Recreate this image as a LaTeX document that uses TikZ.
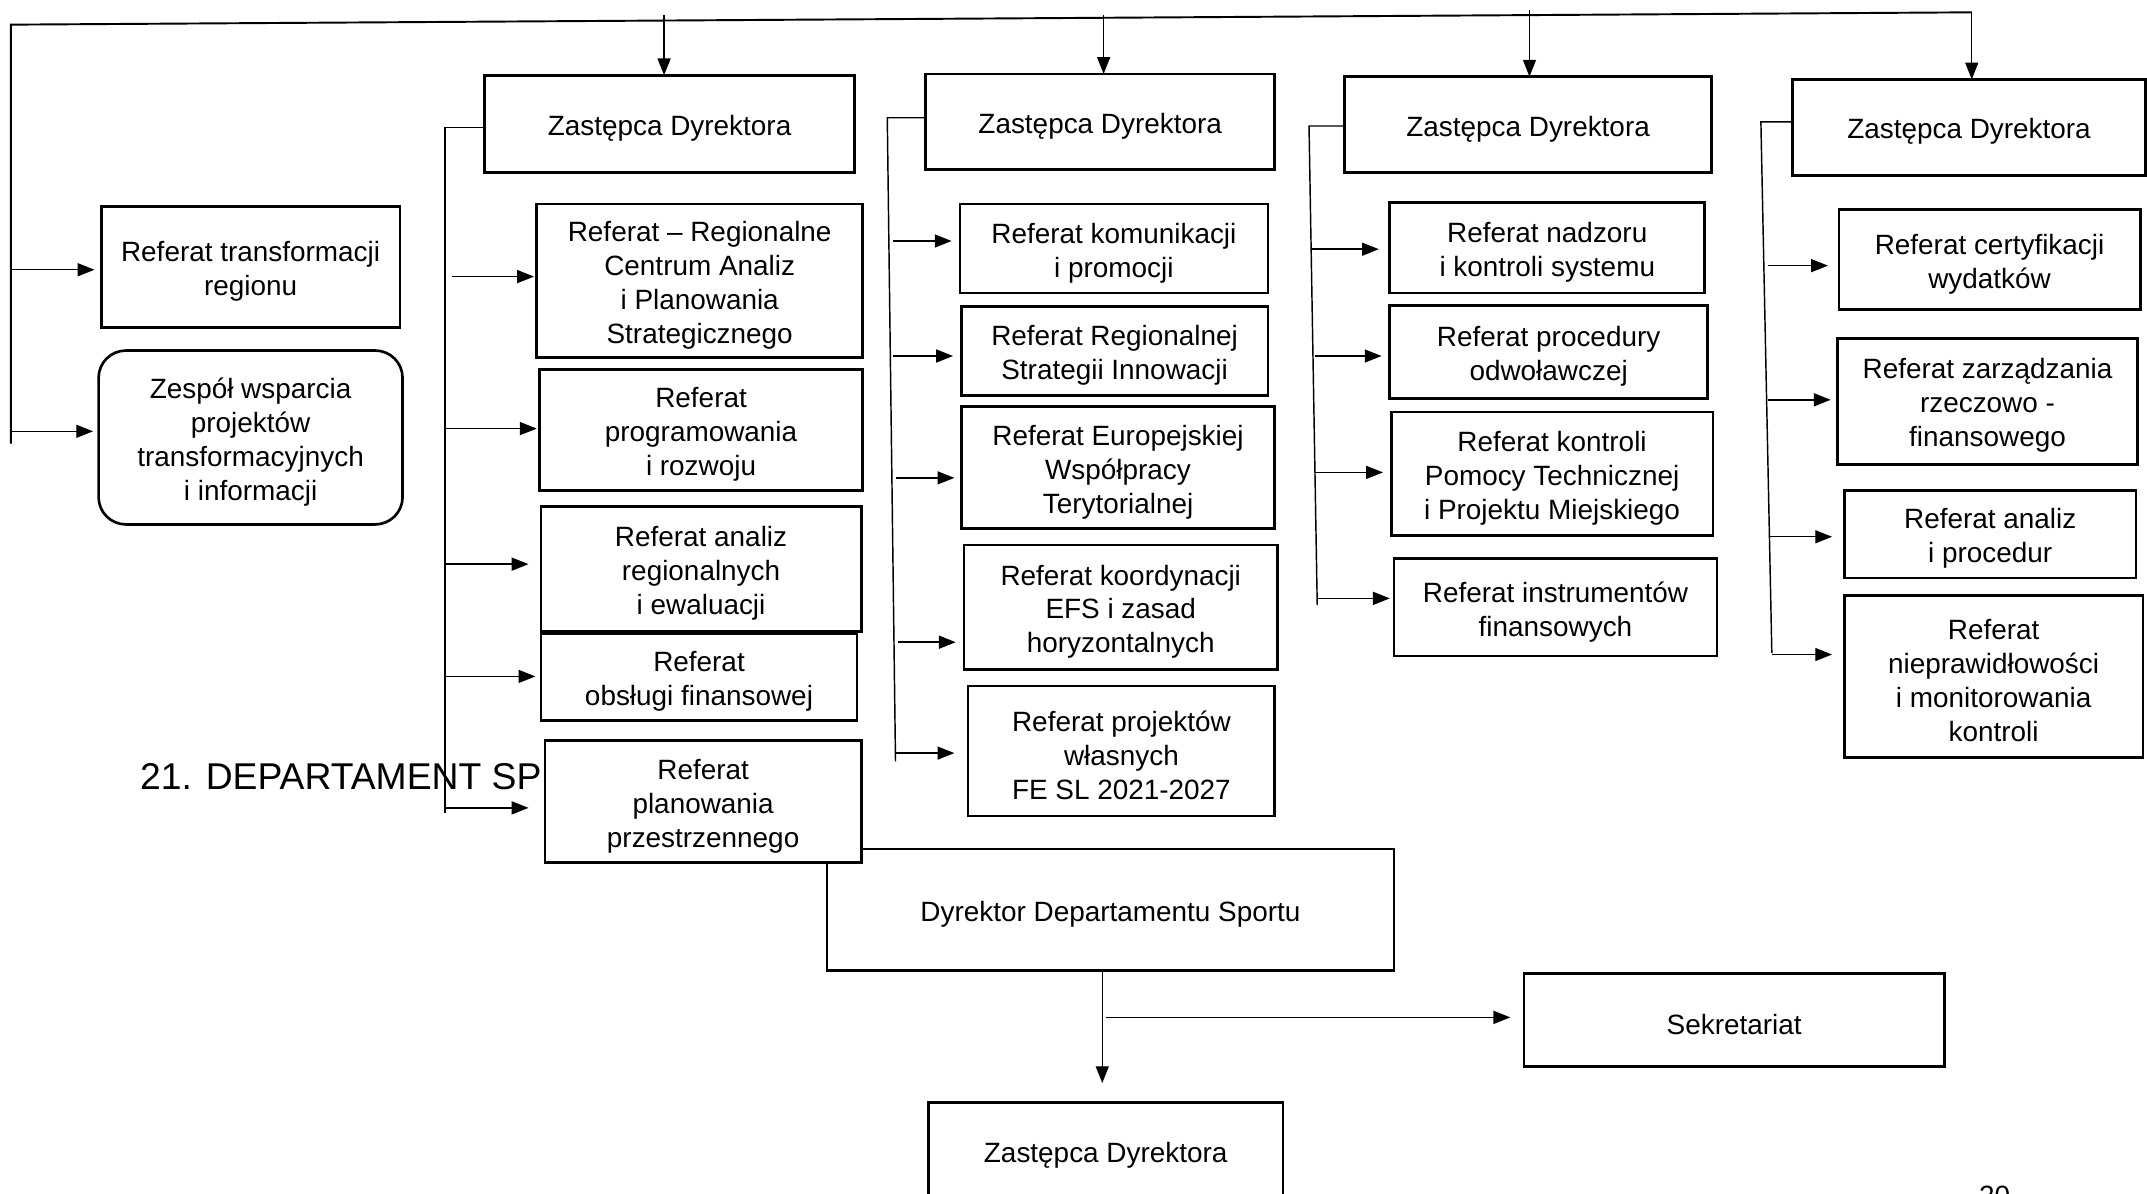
\documentclass[tikz,border=0pt]{standalone}
\usepackage{fontspec}
\setmainfont{Liberation Sans}
\usetikzlibrary{arrows.meta}
\tikzset{
  txt/.style={font=\fontsize{11.6}{14.1}\selectfont},
  box/.style={draw, line width=1.1pt, fill=white, inner sep=0pt, outer sep=0pt},
  label/.style={inner sep=0pt, align=center, txt},
  conn/.style={line width=0.6pt},
  arr/.style={line width=0.6pt, -{Triangle[length=7pt,width=5.4pt]}},
  topline/.style={line width=0.8pt},
}
\newcommand\bx[6]{\node[box, minimum width={(#3-#1)*0.02cm}, minimum height={(#4-#2)*0.02cm}, anchor=north west] (#5) at (#1,#2) {};
\node[label, yshift=-0.065cm] (#5t) at (#5.center) {#6};}
\begin{document}
\begin{tikzpicture}[x=0.02cm,y=-0.02cm]
\useasboundingbox (0,0) rectangle (1568,872);
% title and page number
\node[anchor=west, inner sep=0pt, font=\fontsize{15.5}{18}\selectfont] (title) at (102,567) {21. DEPARTAMENT SP};
\node[anchor=north west, inner sep=0pt, txt] (pagenum) at (1445,866) {20};
% bottom part
\bx{604}{620}{1018}{709}{dyr}{Dyrektor Departamentu Sportu}
\bx{1113}{711}{1420}{779}{sek}{Sekretariat}
\bx{678}{805}{937}{876}{zb}{Zastępca Dyrektora}
\coordinate (dsplit) at (808,743);
\draw[arr] (dyr.south -| 805,0) -- ([yshift=14*0.02cm]zb.north -| 805,0);
\draw[arr, shorten >=10*0.02cm] (dsplit) -- (dsplit -| sek.west);
% top line
\coordinate (tl) at (8,18);
\coordinate (tr) at (1440,9);
\coordinate (lb) at (8,324);
\draw[topline] (lb) -- (tl) -- (tr);
% left boxes
\bx{74}{151}{292}{239}{rt}{Referat transformacji\\regionu}
\node[box, rounded corners=0.4cm, minimum width={(294-72)*0.02cm}, minimum height={(383-256)*0.02cm}, anchor=north west] (zw) at (72,256) {};
\node[label, yshift=-0.065cm] (zwt) at (zw.center) {Zespół wsparcia\\projektów\\transformacyjnych\\i informacji};
\coordinate (l1) at (8,197);
\coordinate (l2) at (8,315);
\draw[arr, shorten >=5*0.02cm] (l1) -- (l1 -| rt.west);
\draw[arr, shorten >=4*0.02cm] (l2) -- (l2 -| zw.west);
% column 1
\bx{354}{55}{624}{126}{z1}{Zastępca Dyrektora}
\coordinate (t1) at (485,11);
\draw[arr] (t1) -- (t1 |- z1.north);
\coordinate (c1a) at (325,93);
\coordinate (c1b) at (325,594);
\draw[conn] (z1.west |- c1a) -- (c1a) -- (c1b);
\bx{392}{149}{630}{261}{r11}{Referat – Regionalne\\Centrum Analiz\\i Planowania\\Strategicznego}
\bx{394}{270}{630}{358}{r12}{Referat\\programowania\\i rozwoju}
\bx{395}{370}{629}{461}{r13}{Referat analiz\\regionalnych\\i ewaluacji}
\bx{395}{463}{626}{526}{r14}{Referat\\obsługi finansowej}
\bx{398}{541}{629}{630}{r15}{Referat\\planowania\\przestrzennego}
\coordinate (a11) at (330,202);
\coordinate (a12) at (326,313);
\coordinate (a13) at (326,412);
\coordinate (a14) at (326,494);
\coordinate (a15) at (326,590);
\draw[arr, shorten >=2*0.02cm] (a11) -- (a11 -| r11.west);
\draw[arr, shorten >=2*0.02cm] (a12) -- (a12 -| r12.west);
\draw[arr, shorten >=9*0.02cm] (a13) -- (a13 -| r13.west);
\draw[arr, shorten >=4*0.02cm] (a14) -- (a14 -| r14.west);
\draw[arr, shorten >=12*0.02cm] (a15) -- (a15 -| r15.west);
% column 2
\bx{676}{54}{931}{124}{z2}{Zastępca Dyrektora}
\coordinate (t2) at (806,11);
\draw[arr] (t2) -- (t2 |- z2.north);
\coordinate (c2a) at (648,86);
\coordinate (c2b) at (654,556);
\draw[conn] (z2.west |- c2a) -- (c2a) -- (c2b);
\bx{701}{149}{926}{214}{r21}{Referat komunikacji\\i promocji}
\bx{702}{224}{926}{289}{r22}{Referat Regionalnej\\Strategii Innowacji}
\bx{702}{297}{931}{386}{r23}{Referat Europejskiej\\Współpracy\\Terytorialnej}
\bx{704}{398}{933}{489}{r24}{Referat koordynacji\\EFS i zasad\\horyzontalnych}
\bx{707}{501}{931}{596}{r25}{Referat projektów\\własnych\\FE SL 2021-2027}
\coordinate (a21) at (652,176);
\coordinate (a22) at (652,260);
\coordinate (a23) at (654,349);
\coordinate (a24) at (656,469);
\coordinate (a25) at (654,550);
\draw[arr, shorten >=6*0.02cm] (a21) -- (a21 -| r21.west);
\draw[arr, shorten >=6*0.02cm] (a22) -- (a22 -| r22.west);
\draw[arr, shorten >=5*0.02cm] (a23) -- (a23 -| r23.west);
\draw[arr, shorten >=6*0.02cm] (a24) -- (a24 -| r24.west);
\draw[arr, shorten >=10*0.02cm] (a25) -- (a25 -| r25.west);
% column 3
\bx{982}{56}{1250}{126}{z3}{Zastępca Dyrektora}
\coordinate (t3) at (1117,7);
\draw[arr] (t3) -- (t3 |- z3.north);
\coordinate (c3a) at (956,92);
\coordinate (c3b) at (962,442);
\draw[conn] (z3.west |- c3a) -- (c3a) -- (c3b);
\bx{1015}{148}{1245}{214}{r31}{Referat nadzoru\\i kontroli systemu}
\bx{1015}{223}{1247}{291}{r32}{Referat procedury\\odwoławczej}
\bx{1016}{301}{1251}{391}{r33}{Referat kontroli\\Pomocy Technicznej\\i Projektu Miejskiego}
\bx{1018}{408}{1254}{479}{r34}{Referat instrumentów\\finansowych}
\coordinate (a31) at (958,182);
\coordinate (a32) at (960,260);
\coordinate (a33) at (960,345);
\coordinate (a34) at (962,437);
\draw[arr, shorten >=8*0.02cm] (a31) -- (a31 -| r31.west);
\draw[arr, shorten >=6*0.02cm] (a32) -- (a32 -| r32.west);
\draw[arr, shorten >=6*0.02cm] (a33) -- (a33 -| r33.west);
\draw[arr, shorten >=3*0.02cm] (a34) -- (a34 -| r34.west);
% column 4
\bx{1309}{58}{1567}{128}{z4}{Zastępca Dyrektora}
\draw[arr] (tr) -- (tr |- z4.north);
\coordinate (c4a) at (1286,89);
\coordinate (c4b) at (1294,477);
\draw[conn] (z4.west |- c4a) -- (c4a) -- (c4b);
\bx{1343}{153}{1563}{226}{r41}{Referat certyfikacji\\wydatków}
\bx{1342}{247}{1561}{339}{r42}{Referat zarządzania\\rzeczowo -\\finansowego}
\bx{1347}{358}{1560}{422}{r43}{Referat analiz\\i procedur}
\bx{1347}{435}{1565}{553}{r44}{Referat\\nieprawidłowości\\i monitorowania\\kontroli}
\coordinate (a41) at (1291,194);
\coordinate (a42) at (1291,292);
\coordinate (a43) at (1293,392);
\coordinate (a44) at (1294,478);
\draw[arr, shorten >=8*0.02cm] (a41) -- (a41 -| r41.west);
\draw[arr, shorten >=5*0.02cm] (a42) -- (a42 -| r42.west);
\draw[arr, shorten >=9*0.02cm] (a43) -- (a43 -| r43.west);
\draw[arr, shorten >=9*0.02cm] (a44) -- (a44 -| r44.west);
\end{tikzpicture}
\end{document}
